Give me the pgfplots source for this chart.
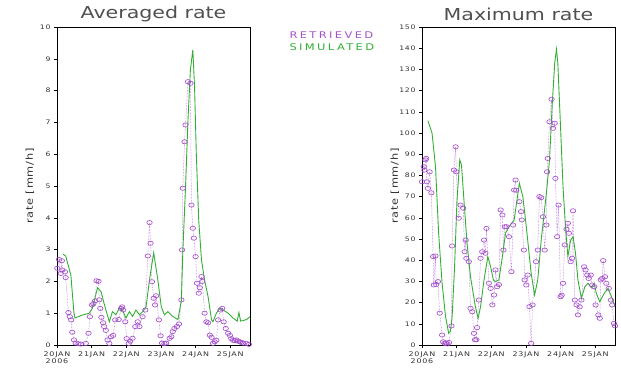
\documentclass[border=0pt]{standalone}
\usepackage{fontspec}
\setmainfont{DejaVu Sans}
\newfontfamily\grT{DejaVu Sans}[FakeStretch=1.25]
\newfontfamily\grLeg{DejaVu Sans}[FakeStretch=1.25,LetterSpace=26]
\newfontfamily\grLab{DejaVu Sans}[FakeStretch=1.2,LetterSpace=8]
\newfontfamily\grTick{DejaVu Sans}[FakeStretch=1.25,LetterSpace=12]
\usepackage{pgfplots}
\pgfplotsset{compat=1.18}
\definecolor{ret}{RGB}{165,80,205}
\definecolor{sim}{RGB}{50,175,50}
\definecolor{txt}{RGB}{50,50,50}
\definecolor{ttl}{RGB}{80,80,80}
\pgfplotsset{gstyle/.style={
  scale only axis, width=193bp, height=318bp,
  xmin=0, xmax=5.57,
  xtick={0,1,2,3,4,5},
  xticklabels={{20JAN\\2006},21JAN,22JAN,23JAN,24JAN,25JAN},
  xticklabel style={align=center, font=\grTick\fontsize{6.4}{7.3}\selectfont, text=txt},
  yticklabel style={font=\grTick\fontsize{6.2}{7.3}\selectfont, text=txt},
  /pgf/number format/assume math mode=true,
  tick align=outside, major tick length=3bp,
  xtick pos=bottom, ytick pos=left,
  axis line style={line width=0.5pt},
  tick style={black, line width=0.4pt},
  ylabel={rate [mm/h]},
  ylabel style={font=\grLab\fontsize{9.5}{9.5}\selectfont, text=txt, at={(axis description cs:-0.14,0.5)}, anchor=center},
  title style={font=\grT\fontsize{16.5}{16.5}\selectfont, text=ttl, at={(0.5,1)}, anchor=center, yshift=7bp},
  rstyle/.style={ret, densely dotted, line width=0.5pt, mark=o, mark size=2.5pt, mark options={solid, xscale=1.1, yscale=0.85, line width=0.65pt}},
  sstyle/.style={sim, line width=0.9pt, no marks},
}}
\begin{document}
\begin{tikzpicture}
\path[use as bounding box] (0,0) rectangle (621bp,368bp);
\begin{axis}[gstyle, at={(57bp,23bp)}, ymin=0, ymax=10, ytick={0,1,...,10}, title={Averaged rate}]
\addplot[rstyle] coordinates {
(0.01,2.41)(0.06,2.69)(0.11,2.25)(0.14,2.65)(0.15,2.36)(0.23,2.30)(0.25,2.12)
(0.33,1.02)(0.37,0.89)(0.41,0.79)(0.44,0.40)(0.49,0.16)(0.54,0.06)(0.62,0.04)
(0.69,0.03)(0.83,0.05)(0.91,0.37)(0.95,0.89)(1.01,1.26)(1.05,1.30)(1.10,1.39)
(1.14,2.02)(1.20,2.00)(1.22,1.42)(1.25,1.15)(1.28,0.87)(1.33,0.70)(1.36,0.58)
(1.41,0.46)(1.46,0.16)(1.51,0.05)(1.56,0.26)(1.62,0.30)(1.68,0.79)(1.78,0.80)
(1.85,1.15)(1.88,1.20)(1.91,1.10)(1.97,0.73)(2.01,0.20)(2.07,0.05)(2.11,0.12)
(2.18,0.21)(2.26,0.58)(2.33,0.73)(2.38,0.58)(2.47,0.89)(2.55,1.10)(2.62,2.80)
(2.67,3.85)(2.70,3.20)(2.74,1.99)(2.79,1.47)(2.83,1.26)(2.86,1.55)(2.94,0.79)
(2.99,0.29)(3.03,0.06)(3.10,0.05)(3.15,0.06)(3.25,0.21)(3.30,0.26)(3.34,0.42)
(3.39,0.52)(3.46,0.58)(3.52,0.66)(3.59,1.42)(3.61,2.99)(3.63,4.93)(3.68,6.39)
(3.71,6.92)(3.78,8.28)(3.85,8.23)(3.88,4.40)(3.92,3.67)(3.95,3.36)(4.00,2.78)
(4.04,1.94)(4.09,1.63)(4.12,1.80)(4.17,2.15)(4.19,2.00)(4.26,1.00)(4.31,0.73)
(4.36,0.70)(4.41,0.31)(4.46,0.24)(4.50,0.05)(4.55,0.10)(4.60,0.15)(4.65,0.79)
(4.72,1.10)(4.77,1.15)(4.81,0.73)(4.87,0.52)(4.94,0.37)(4.99,0.30)(5.03,0.20)
(5.08,0.15)(5.13,0.14)(5.18,0.16)(5.23,0.12)(5.28,0.10)(5.32,0.08)(5.37,0.06)
(5.47,0.05)(5.54,0.02)};
\addplot[sstyle] coordinates {
(0.17,2.86)(0.25,2.80)(0.40,2.20)(0.49,1.00)(0.52,0.85)(0.73,0.94)(0.93,1.00)
(1.02,1.15)(1.17,1.80)(1.27,1.68)(1.36,1.30)(1.51,0.73)(1.60,1.05)(1.70,0.95)
(1.80,1.16)(1.89,1.10)(1.99,0.85)(2.09,1.05)(2.18,0.90)(2.28,1.10)(2.38,0.95)
(2.47,1.05)(2.57,1.20)(2.67,2.05)(2.79,2.90)(2.91,2.05)(3.01,1.20)(3.10,0.95)
(3.20,1.05)(3.34,0.90)(3.49,0.80)(3.59,1.41)(3.63,2.90)(3.71,4.98)(3.78,7.07)
(3.85,8.65)(3.92,9.28)(3.97,8.12)(4.02,6.03)(4.09,3.93)(4.17,2.67)(4.26,2.04)
(4.36,1.52)(4.46,0.79)(4.50,0.73)(4.60,1.00)(4.70,1.16)(4.79,1.10)(4.94,1.00)
(5.08,0.85)(5.20,0.75)(5.25,1.02)(5.30,0.75)(5.47,0.80)(5.57,0.89)};
\end{axis}
\begin{axis}[gstyle, at={(422bp,23bp)}, ymin=0, ymax=150, ytick={0,10,...,150}, title={Maximum rate}]
\addplot[rstyle] coordinates {
(0.00,77)(0.05,84.1)(0.07,82.5)(0.10,87.3)(0.12,88)(0.14,77)(0.17,73.9)
(0.22,81.7)(0.27,71.8)(0.32,41.7)(0.34,28.3)(0.39,42)(0.41,28.5)(0.46,29.9)
(0.51,15)(0.58,4.7)(0.61,1.5)(0.65,0.8)(0.69,1.0)(0.73,0.5)(0.78,1.2)(0.85,9)
(0.87,46.7)(0.92,82.5)(0.97,93.5)(0.99,81.7)(1.06,59.8)(1.11,66)(1.19,64.5)
(1.23,44)(1.26,49.5)(1.28,40.9)(1.35,39.3)(1.40,17.3)(1.45,15.7)(1.50,5.5)
(1.53,2.5)(1.57,2.5)(1.59,8.2)(1.64,21.2)(1.69,40.9)(1.74,44)(1.79,49.5)
(1.83,43.3)(1.86,55)(1.93,29.1)(1.98,26.7)(2.03,18.9)(2.08,23.6)(2.12,35.4)
(2.17,27.5)(2.22,28.5)(2.27,63.7)(2.32,61.3)(2.35,44.8)(2.39,55.8)(2.44,55.8)
(2.51,51.1)(2.58,34.6)(2.63,56.6)(2.66,73.1)(2.70,77.8)(2.72,73)(2.81,67.6)
(2.86,62.9)(2.88,59)(2.94,44.8)(2.96,30.7)(3.01,28.3)(3.05,33)(3.10,18.1)
(3.15,0.8)(3.19,18.9)(3.29,39.3)(3.34,44.8)(3.39,70)(3.44,69.5)(3.49,60.5)
(3.54,44.8)(3.59,56.6)(3.61,81.7)(3.63,88)(3.68,105.3)(3.74,115.9)(3.78,102.2)
(3.83,104.6)(3.85,78.6)(3.90,51.1)(3.94,66)(4.00,22.8)(4.03,23.5)(4.07,29.1)
(4.12,47.2)(4.17,54.6)(4.21,57.4)(4.24,52.7)(4.29,39.3)(4.33,40.9)(4.36,63.3)
(4.41,21.2)(4.46,18.9)(4.50,14.2)(4.55,18)(4.60,21.2)(4.68,36.9)(4.72,35.4)
(4.77,33)(4.81,31.4)(4.87,33)(4.91,28.3)(4.97,27.5)(5.01,18.9)(5.09,14.2)
(5.13,12.6)(5.16,30.7)(5.20,31.4)(5.23,39.8)(5.28,32.2)(5.32,29.1)(5.39,26.7)
(5.45,21.2)(5.49,18.9)(5.54,10.2)(5.57,9)};
\addplot[sstyle] coordinates {
(0.17,105.8)(0.29,99.9)(0.39,84.1)(0.48,52.7)(0.58,29.1)(0.68,13.4)(0.77,5.5)
(0.82,6.5)(0.87,13.4)(0.94,36.9)(1.01,68.4)(1.09,87.3)(1.14,84.9)(1.21,68.4)
(1.30,48.0)(1.40,32.2)(1.54,18.1)(1.62,12.6)(1.69,18.1)(1.79,30.7)(1.90,41.7)
(1.98,36.9)(2.06,30.7)(2.12,29.9)(2.22,30.7)(2.32,41.7)(2.41,52.7)(2.51,55.8)
(2.66,59.0)(2.81,76.3)(2.91,70)(3.01,55.8)(3.15,33.8)(3.25,23.6)(3.34,30.7)
(3.44,49.5)(3.59,71.6)(3.68,87.3)(3.76,114)(3.83,132.9)(3.88,139.5)(3.92,133)
(3.99,106)(4.07,74.7)(4.14,55.8)(4.21,41.7)(4.29,49.5)(4.36,51.1)(4.43,43.3)
(4.50,30.7)(4.60,22)(4.70,27.5)(4.79,29.1)(4.89,27)(4.97,29.1)(5.03,24.4)
(5.13,20.4)(5.26,24.4)(5.37,26.7)(5.47,22.8)(5.57,18.1)};
\end{axis}
\node[anchor=west, text=ret, font=\grLeg\fontsize{9.2}{9.2}\selectfont] at (286bp,333bp) {RETRIEVED};
\node[anchor=west, text=sim, font=\grLeg\fontsize{9.2}{9.2}\selectfont] at (286bp,321.3bp) {SIMULATED};
\end{tikzpicture}
\end{document}
